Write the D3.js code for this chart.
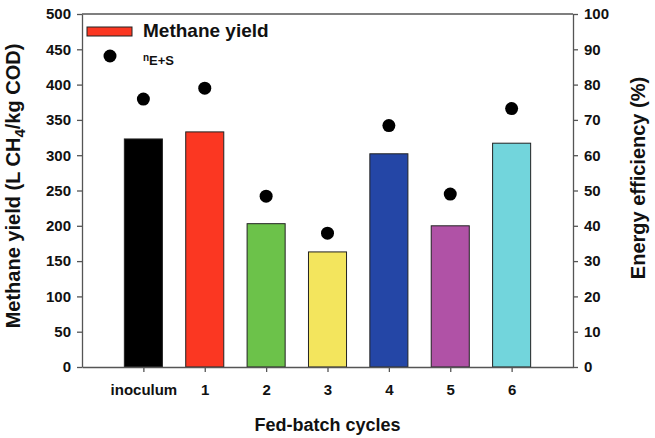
<!DOCTYPE html>
<html>
<head>
<meta charset="utf-8">
<script src="https://cdn.jsdelivr.net/npm/d3@7"></script>
<style>
  body { margin: 0; background: #fff; }
  text { font-family: "Liberation Sans", Arial, sans-serif; font-weight: bold; fill: #111; }
</style>
</head>
<body>
<div id="chart"></div>
<script>
// data
const cycles = ["inoculum", "1", "2", "3", "4", "5", "6"];
const methaneYield = [323, 333, 203, 163, 302, 200, 317];
const energyEff = [75.9, 79.0, 48.4, 37.9, 68.4, 49.0, 73.2];
const barColors = ["#000000", "#fb3722", "#6cc24a", "#f3e55d", "#2446a6", "#b052a6", "#72d5dc"];
const leftTicks = [0, 50, 100, 150, 200, 250, 300, 350, 400, 450, 500];
const rightTicks = [0, 10, 20, 30, 40, 50, 60, 70, 80, 90, 100];

const W = 655, H = 438;
const margin = {top: 14, right: 82, bottom: 71, left: 82};
const width = W - margin.left - margin.right,
      height = H - margin.top - margin.bottom;

const svg = d3.select("#chart").append("svg")
    .attr("width", W).attr("height", H);
const g = svg.append("g")
    .attr("transform", `translate(${margin.left},${margin.top})`);

// scales
const x = d3.scaleLinear().domain([-1, 7]).range([0, width]);
const y = d3.scaleLinear().domain([0, 500]).range([height, 0]);
const y2 = d3.scaleLinear().domain([0, 100]).range([height, 0]);
const barW = x(0.62) - x(0);

// bars
g.selectAll("rect.bar")
  .data(methaneYield)
  .enter().append("rect")
    .attr("class", "bar")
    .attr("x", (d, i) => x(i) - barW / 2)
    .attr("y", d => y(d))
    .attr("width", barW)
    .attr("height", d => y(0) - y(d))
    .attr("fill", (d, i) => barColors[i])
    .attr("stroke", "#222")
    .attr("stroke-width", 1);

// energy efficiency dots
g.selectAll("circle.dot")
  .data(energyEff)
  .enter().append("circle")
    .attr("class", "dot")
    .attr("cx", (d, i) => x(i))
    .attr("cy", d => y2(d))
    .attr("r", 6.5)
    .attr("fill", "#000");

// top frame line
g.append("line")
  .attr("x1", 0).attr("x2", width)
  .attr("y1", 0).attr("y2", 0)
  .attr("stroke", "#555").attr("stroke-width", 1.3);

// axes
const xAxis = g.append("g")
  .attr("transform", `translate(0,${height})`)
  .call(d3.axisBottom(x).tickValues(d3.range(cycles.length))
    .tickFormat(i => cycles[i]).tickSize(5).tickSizeOuter(0).tickPadding(12));

const yAxis = g.append("g")
  .call(d3.axisLeft(y).tickValues(leftTicks).tickSize(5).tickSizeOuter(0).tickPadding(6));

const y2Axis = g.append("g")
  .attr("transform", `translate(${width},0)`)
  .call(d3.axisRight(y2).tickValues(rightTicks).tickSize(5).tickSizeOuter(0).tickPadding(6));

[xAxis, yAxis, y2Axis].forEach(a => {
  a.select(".domain").attr("stroke", "#555").attr("stroke-width", 1.3);
  a.selectAll(".tick line").attr("stroke", "#555").attr("stroke-width", 1.3);
  a.selectAll(".tick text")
    .style("font-family", "'Liberation Sans', Arial, sans-serif")
    .style("font-weight", "bold")
    .style("font-size", "15px")
    .attr("fill", "#111");
});

// axis titles
svg.append("text")
  .attr("x", margin.left + width / 2)
  .attr("y", 431)
  .attr("text-anchor", "middle")
  .style("font-size", "18px")
  .text("Fed-batch cycles");

const lt = svg.append("text")
  .attr("transform", `translate(20,186) rotate(-90)`)
  .attr("text-anchor", "middle")
  .style("font-size", "20px");
lt.append("tspan").text("Methane yield (L CH");
lt.append("tspan").attr("dy", 5).style("font-size", "15px").text("4");
lt.append("tspan").attr("dy", -5).text("/kg COD)");

svg.append("text")
  .attr("transform", `translate(645,178) rotate(-90)`)
  .attr("text-anchor", "middle")
  .style("font-size", "20px")
  .text("Energy efficiency (%)");

// legend
const leg = svg.append("g");
leg.append("rect")
  .attr("x", 87).attr("y", 27)
  .attr("width", 45).attr("height", 9)
  .attr("fill", barColors[1])
  .attr("stroke", "#222").attr("stroke-width", 1);
leg.append("text")
  .attr("x", 143).attr("y", 37)
  .style("font-size", "19px")
  .text("Methane yield");
leg.append("circle")
  .attr("cx", 110).attr("cy", 56)
  .attr("r", 6.5).attr("fill", "#000");
const lt2 = leg.append("text")
  .attr("x", 143).attr("y", 61)
  .style("font-size", "10px");
lt2.append("tspan").text("n");
lt2.append("tspan").attr("dy", 4).style("font-size", "13px").text("E+S");
</script>
</body>
</html>
